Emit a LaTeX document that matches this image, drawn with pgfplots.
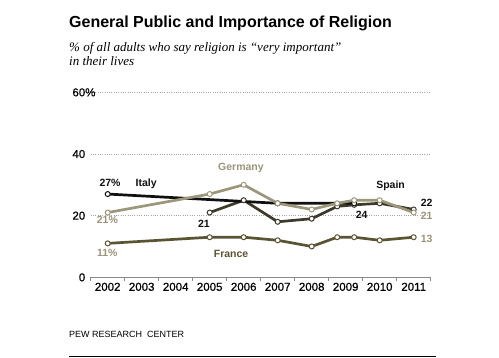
\documentclass[border=0pt]{standalone}
\usepackage{fontspec}
\setmainfont{Liberation Sans}
\newfontfamily\subfont{Liberation Serif}
\newfontfamily\tickfont[FakeBold=0.7]{Liberation Sans}
\usepackage{pgfplots}
\pgfplotsset{compat=1.18}
\definecolor{ger}{HTML}{9C977A}
\definecolor{spa}{HTML}{3D3A2B}
\definecolor{fra}{HTML}{5B5432}
\definecolor{ita}{HTML}{101010}
\definecolor{lab}{HTML}{9A9478}
\definecolor{axg}{HTML}{8A8A8A}
\begin{document}
\begin{tikzpicture}
\useasboundingbox (0pt,0pt) rectangle (499pt,358pt);
% title and subtitle
\node[anchor=base west,inner sep=0pt,font=\fontsize{16}{18}\selectfont\bfseries] at (69pt,330pt) {General Public and Importance of Religion};
\node[anchor=base west,inner sep=0pt,font=\fontsize{13}{14}\selectfont\subfont\itshape] at (69pt,306pt) {\% of all adults who say religion is “very important”};
\node[anchor=base west,inner sep=0pt,font=\fontsize{13}{14}\selectfont\subfont\itshape] at (69pt,292pt) {in their lives};
\node[anchor=base west,inner sep=0pt,font=\fontsize{9}{10}\selectfont] at (69pt,20.3pt) {PEW RESEARCH\ \ CENTER};
\draw[black,line width=0.9pt] (69pt,1.7pt) -- (436pt,1.7pt);
\begin{axis}[
  at={(90.7pt,80.7pt)}, anchor=south west,
  scale only axis, width=340pt, height=185pt,
  xmin=2001.5, xmax=2011.5, ymin=0, ymax=60,
  axis x line*=bottom, axis y line*=left,
  x axis line style={-, draw=axg, line width=1.1pt},
  y axis line style={draw=none},
  xtick={2002,2003,2004,2005,2006,2007,2008,2009,2010,2011},
  xticklabels={2002,2003,2004,2005,2006,2007,2008,2009,2010,2011},
  minor xtick={2001.5,2002.5,2003.5,2004.5,2005.5,2006.5,2007.5,2008.5,2009.5,2010.5,2011.5},
  major x tick style={draw=none},
  minor x tick style={draw=axg, line width=0.9pt},
  minor tick length=4pt, tick align=outside,
  ytick={0,20,40,60},
  yticklabels={0,20,40,60\rlap{\%}},
  ytick style={draw=none},
  ymajorgrids,
  grid style={draw=gray!70, line width=0.7pt, dash pattern=on 0.8pt off 1.5pt},
  tick label style={font=\fontsize{11.5}{12}\selectfont\tickfont},
  xticklabel style={yshift=-1pt},
  yticklabel style={xshift=-1pt},
  clip=false,
  every axis plot/.append style={line width=2.7pt, mark=*, mark size=2.5pt, mark options={fill=white, line width=1pt, solid}},
  nodes={text depth=0pt, inner sep=0pt},
]
\addplot[color=fra] coordinates {(2002,11) (2005,13) (2006,13) (2007,12) (2008,10) (2008.75,13) (2009.25,13) (2010,12) (2011,13)};
\addplot[color=spa] coordinates {(2005,21) (2006,25) (2007,18) (2008,19) (2008.75,23) (2009.25,23.5) (2010,24) (2011,22)};
\addplot[color=ita] coordinates {(2002,27) (2007,24) (2009.25,24)};
\addplot[color=ger] coordinates {(2002,21) (2005,27) (2006,30) (2007,24) (2008,22) (2008.75,24) (2009.25,25) (2010,25) (2011,21)};
% labels
\node[font=\fontsize{10.5}{11}\selectfont\bfseries, text=ita] at (axis cs:2002.07,30.7) {27\%};
\node[font=\fontsize{10.5}{11}\selectfont\bfseries, text=ita] at (axis cs:2003.13,30.7) {Italy};
\node[font=\fontsize{10.5}{11}\selectfont\bfseries, text=lab] at (axis cs:2001.99,18.6) {21\%};
\node[font=\fontsize{10.5}{11}\selectfont\bfseries, text=ita] at (axis cs:2004.83,17.5) {21};
\node[font=\fontsize{10.5}{11}\selectfont\bfseries, text=lab] at (axis cs:2005.92,35.7) {Germany};
\node[font=\fontsize{10.5}{11}\selectfont\bfseries, text=lab] at (axis cs:2001.99,7.8) {11\%};
\node[font=\fontsize{10.5}{11}\selectfont\bfseries, text=fra] at (axis cs:2005.63,7.5) {France};
\node[font=\fontsize{10.5}{11}\selectfont\bfseries, text=ita] at (axis cs:2010.32,29.9) {Spain};
\node[font=\fontsize{10.5}{11}\selectfont\bfseries, text=ita] at (axis cs:2011.38,24.2) {22};
\node[font=\fontsize{10.5}{11}\selectfont\bfseries, text=lab] at (axis cs:2011.38,20.0) {21};
\node[font=\fontsize{10.5}{11}\selectfont\bfseries, text=lab] at (axis cs:2011.38,12.5) {13};
\node[font=\fontsize{10.5}{11}\selectfont\bfseries, text=ita] at (axis cs:2009.47,20.2) {24};
\end{axis}
\end{tikzpicture}
\end{document}
